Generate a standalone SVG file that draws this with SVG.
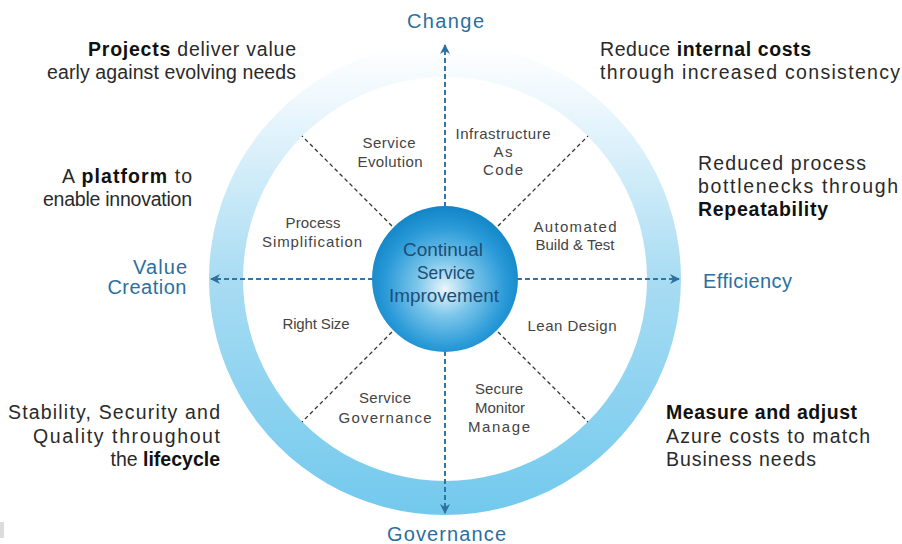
<svg xmlns="http://www.w3.org/2000/svg" width="902" height="544" viewBox="0 0 902 544">
<defs>
<linearGradient id="ringGrad" x1="0" y1="43" x2="0" y2="515" gradientUnits="userSpaceOnUse">
<stop offset="0" stop-color="#ffffff"/>
<stop offset="0.12" stop-color="#eef8fd"/>
<stop offset="0.5" stop-color="#a8dcf3"/>
<stop offset="1" stop-color="#72c9ed"/>
</linearGradient>
<radialGradient id="hubGrad" cx="0.5" cy="0.55" r="0.55" fx="0.5" fy="0.57">
<stop offset="0" stop-color="#eaf6fc"/>
<stop offset="0.35" stop-color="#7cc6ea"/>
<stop offset="0.75" stop-color="#2a9ad8"/>
<stop offset="1" stop-color="#1185c7"/>
</radialGradient>
<marker id="arrow" viewBox="0 0 10 10" refX="9" refY="5" markerWidth="5" markerHeight="5" orient="auto" markerUnits="strokeWidth">
<path d="M0,0 L10,5 L0,10 L3,5 z" fill="#2e6f9e"/>
</marker>
<style>
.axis{stroke:#2e75a8;stroke-width:2;stroke-dasharray:5 3;fill:none}
.spoke{stroke:#333;stroke-width:1.3;stroke-dasharray:4 3;fill:none}
.seg{font-family:"Liberation Sans",Arial,sans-serif;font-size:15px;fill:#444;text-anchor:middle}
.ax{font-family:"Liberation Sans",Arial,sans-serif;font-size:20px;fill:#2c6f9e}
.out{font-family:"Liberation Sans",Arial,sans-serif;font-size:19.5px;fill:#2a2a2a}
.b{font-weight:bold;fill:#111}
.hub{font-family:"Liberation Sans",Arial,sans-serif;font-size:18.5px;fill:#1d4e76;text-anchor:middle}
</style>
</defs>
<rect width="902" height="544" fill="#ffffff"/>
<rect x="0" y="522" width="4" height="16" fill="#dcdcdc"/>

<g id="ring">
<path d="M445,43 A236,236 0 1 1 444.99,43 Z M445,77 A202,202 0 1 0 445.01,77 Z" fill="url(#ringGrad)" fill-rule="evenodd"/>
</g>

<g id="connectors">
<line class="axis" x1="445" y1="279" x2="445" y2="45" marker-end="url(#arrow)"/>
<line class="axis" x1="445" y1="279" x2="445" y2="513" marker-end="url(#arrow)"/>
<line class="axis" x1="445" y1="279" x2="211" y2="279" marker-end="url(#arrow)"/>
<line class="axis" x1="445" y1="279" x2="679" y2="279" marker-end="url(#arrow)"/>
<line class="spoke" x1="392" y1="226" x2="302" y2="136"/>
<line class="spoke" x1="498" y1="226" x2="588" y2="136"/>
<line class="spoke" x1="392" y1="332" x2="302" y2="422"/>
<line class="spoke" x1="498" y1="332" x2="588" y2="422"/>
</g>

<g id="hub">
<circle cx="445" cy="279" r="73" fill="url(#hubGrad)"/>
<text class="hub" x="443" y="256" textLength="80" lengthAdjust="spacingAndGlyphs">Continual</text>
<text class="hub" x="446" y="279" textLength="58" lengthAdjust="spacingAndGlyphs">Service</text>
<text class="hub" x="444" y="302" textLength="110" lengthAdjust="spacingAndGlyphs">Improvement</text>
</g>

<g id="seg-service-evolution"><text class="seg" x="389" y="148" textLength="53">Service</text><text class="seg" x="390" y="167" textLength="65">Evolution</text></g>
<g id="seg-iac"><text class="seg" x="503" y="139" textLength="95">Infrastructure</text><text class="seg" x="503" y="157" textLength="19">As</text><text class="seg" x="503" y="175" textLength="40">Code</text></g>
<g id="seg-automated"><text class="seg" x="575" y="232" textLength="83">Automated</text><text class="seg" x="575" y="250" textLength="79">Build &amp; Test</text></g>
<g id="seg-process"><text class="seg" x="313" y="228" textLength="55">Process</text><text class="seg" x="312" y="247" textLength="100">Simplification</text></g>
<g id="seg-right-size"><text class="seg" x="316" y="329" textLength="67">Right Size</text></g>
<g id="seg-lean"><text class="seg" x="572" y="331" textLength="89">Lean Design</text></g>
<g id="seg-service-governance"><text class="seg" x="385" y="403" textLength="52">Service</text><text class="seg" x="385" y="423" textLength="93">Governance</text></g>
<g id="seg-secure"><text class="seg" x="499" y="394" textLength="48">Secure</text><text class="seg" x="500" y="413" textLength="50">Monitor</text><text class="seg" x="499" y="432" textLength="62">Manage</text></g>

<g id="ax-change"><text class="ax" x="445.5" y="28" text-anchor="middle" textLength="77">Change</text></g>
<g id="ax-value"><text class="ax" x="187" y="274" text-anchor="end" font-size="19" textLength="54">Value</text><text class="ax" x="187" y="294" text-anchor="end" font-size="19" letter-spacing="0.5">Creation</text></g>
<g id="ax-efficiency"><text class="ax" x="703" y="288" textLength="89">Efficiency</text></g>
<g id="ax-governance"><text class="ax" x="446.5" y="541" text-anchor="middle" textLength="119">Governance</text></g>

<g id="txt-projects" text-anchor="end"><text class="out" x="296" y="56" textLength="208"><tspan class="b">Projects</tspan> deliver value</text><text class="out" x="296" y="79" textLength="249">early against evolving needs</text></g>
<g id="txt-platform" text-anchor="end"><text class="out" x="192" y="183" textLength="130">A <tspan class="b">platform</tspan> to</text><text class="out" x="192" y="206" textLength="149">enable innovation</text></g>
<g id="txt-stability" text-anchor="end"><text class="out" x="220" y="419" textLength="212">Stability, Security and</text><text class="out" x="220" y="443" textLength="187">Quality throughout</text><text class="out" x="220" y="466">the <tspan class="b">lifecycle</tspan></text></g>
<g id="txt-reduce"><text class="out" x="600" y="56" textLength="211">Reduce <tspan class="b">internal costs</tspan></text><text class="out" x="600" y="79" textLength="300">through increased consistency</text></g>
<g id="txt-bottlenecks"><text class="out" x="698" y="170" textLength="168">Reduced process</text><text class="out" x="698" y="193" textLength="200">bottlenecks through</text><text class="out b" x="698" y="216" textLength="130">Repeatability</text></g>
<g id="txt-measure"><text class="out b" x="666" y="419" textLength="191">Measure and adjust</text><text class="out" x="666" y="443" textLength="204">Azure costs to match</text><text class="out" x="666" y="466" textLength="150">Business needs</text></g>
</svg>
